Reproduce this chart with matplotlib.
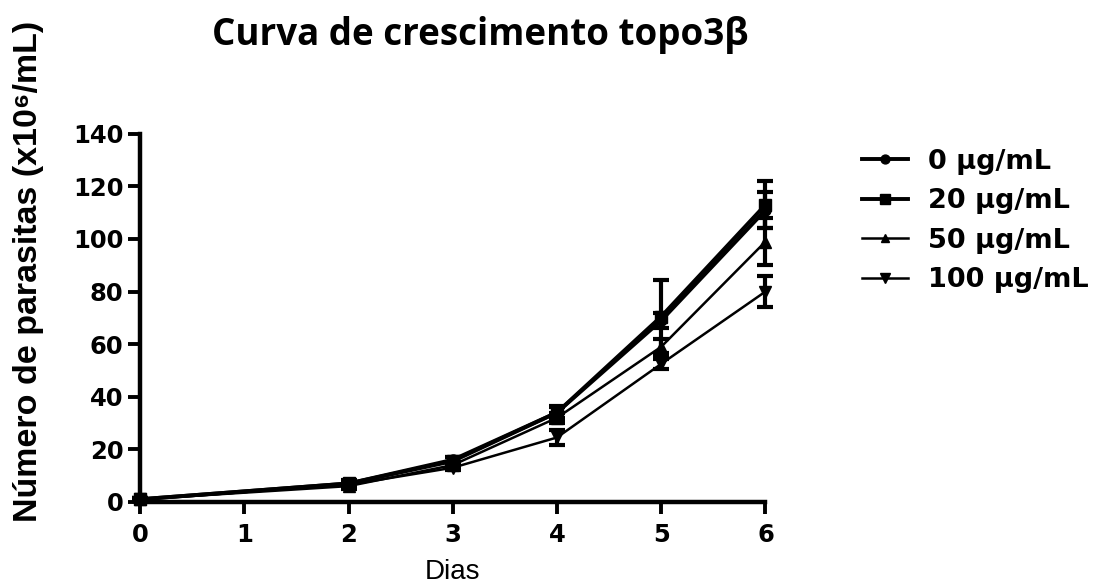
import matplotlib
matplotlib.use("Agg")
import matplotlib.pyplot as plt
import numpy as np

days = [0, 2, 3, 4, 5, 6]
series_labels = ["0 µg/mL", "20 µg/mL", "50 µg/mL", "100 µg/mL"]
mean_0 = [1, 7, 16, 34, 69, 111]
mean_20 = [1, 7, 15.5, 34, 70.5, 113]
mean_50 = [1, 6, 14, 32, 59, 99]
mean_100 = [1, 6.5, 13, 24.5, 52.5, 80]
err_0 = [0.5, 1, 1, 2, 3, 7]
err_20 = [0.5, 1.5, 1.5, 2.5, 14, 9]
err_50 = [0.5, 1, 1, 2, 3, 9]
err_100 = [0.5, 1, 1, 3, 2, 6]

means = [mean_0, mean_20, mean_50, mean_100]
errs = [err_0, err_20, err_50, err_100]
markers = ["o", "s", "^", "v"]
widths = [2.8, 2.8, 1.8, 1.8]
msizes = [8, 9, 8, 9]

plt.rcParams["font.family"] = ["Liberation Sans", "DejaVu Sans"]
bold_wide = {"family": "DejaVu Sans", "weight": "bold", "size": 17.5}

fig = plt.figure(figsize=(10.99, 5.87), dpi=100)
ax = fig.add_axes([0.1275, 0.145, 0.569, 0.627])

for m, e, lab, mk, lw, ms in zip(means, errs, series_labels, markers, widths, msizes):
    ax.errorbar(days, m, yerr=e, color="black", marker=mk, markersize=ms,
                linewidth=lw, elinewidth=3, capsize=6, capthick=3,
                label=lab, clip_on=False)

ax.set_xlim(0, 6)
ax.set_ylim(0, 140)
ax.set_xticks(range(0, 7))
ax.set_yticks(range(0, 141, 20))
for side in ["top", "right"]:
    ax.spines[side].set_visible(False)
for side in ["left", "bottom"]:
    ax.spines[side].set_linewidth(3.2)
ax.tick_params(direction="out", length=8.5, width=2.8)
ax.tick_params(axis="x", pad=6.5)
ax.tick_params(axis="y", pad=3.5)
for t in ax.get_xticklabels() + ax.get_yticklabels():
    t.set_fontproperties(bold_wide)

ax.set_xlabel("Dias", fontsize=20)
ax.xaxis.set_label_coords(0.5, -0.155)

fig.text(0.026, 0.5375, "Número de parasitas (x10⁶/mL)", fontsize=24.5,
         fontweight="bold", rotation=90, ha="center", va="center")

fig.text(0.437, 0.923, "Curva de crescimento topo3β", fontsize=26.5,
         fontweight="bold", family=["Open Sans", "DejaVu Sans"],
         ha="center", va="baseline")

handles, labels = ax.get_legend_handles_labels()
handles = [h[0] for h in handles]
fig.legend(handles, labels, loc="upper left", bbox_to_anchor=(0.784, 0.747),
           frameon=False, handlelength=1.7, handletextpad=0.75,
           labelspacing=0.5, borderpad=0, borderaxespad=0, markerscale=0.8,
           prop={"family": "DejaVu Sans", "size": 19.5, "weight": "bold"})

fig.savefig("out.png", dpi=100)
